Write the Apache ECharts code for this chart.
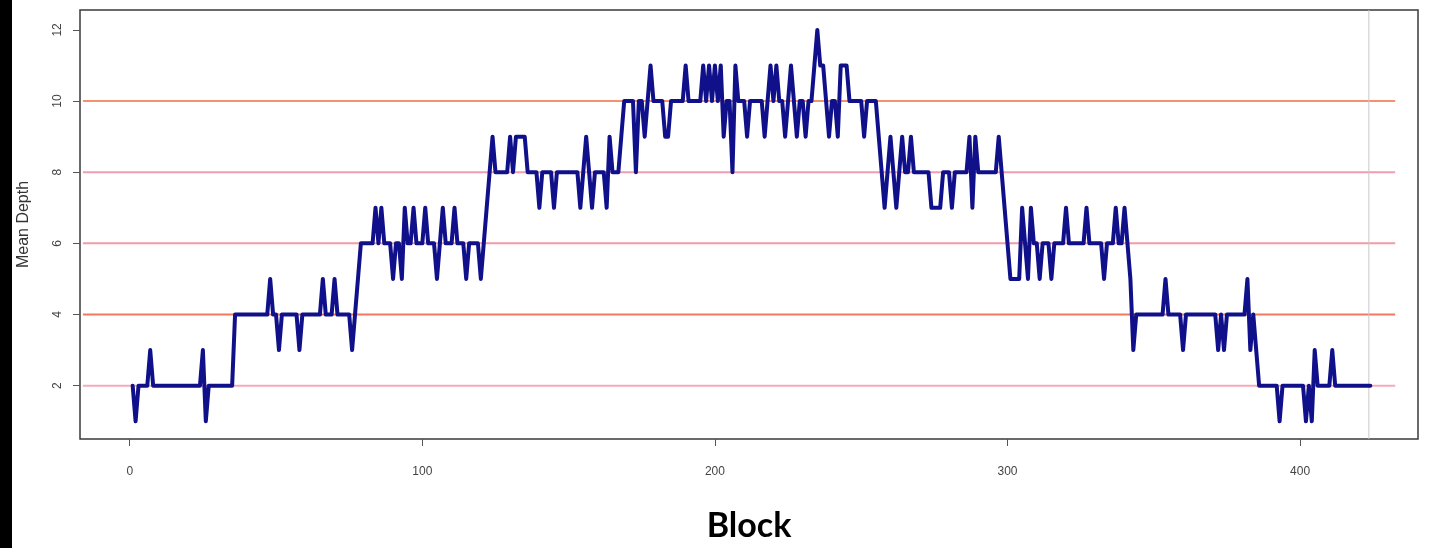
<!DOCTYPE html>
<html>
<head>
<meta charset="utf-8">
<script src="https://cdn.jsdelivr.net/npm/echarts@6/dist/echarts.min.js"></script>
<style>
html,body{margin:0;padding:0;background:#fff;}
#chart{width:1435px;height:548px;}
</style>
</head>
<body>
<div id="chart"></div>
<script>
// Block numbers start at 1; one mean-depth value per block
const firstBlock = 1;
const meanDepth = [
  2,1,2,2,2,2,3,2,2,2,
  2,2,2,2,2,2,2,2,2,2,
  2,2,2,2,3,1,2,2,2,2,
  2,2,2,2,2,4,4,4,4,4,
  4,4,4,4,4,4,4,5,4,4,
  3,4,4,4,4,4,4,3,4,4,
  4,4,4,4,4,5,4,4,4,5,
  4,4,4,4,4,3,4,5,6,6,
  6,6,6,7,6,7,6,6,6,5,
  6,6,5,7,6,6,7,6,6,6,
  7,6,6,6,5,6,7,6,6,6,
  7,6,6,6,5,6,6,6,6,5,
  6,7,8,9,8,8,8,8,8,9,
  8,9,9,9,9,8,8,8,8,7,
  8,8,8,8,7,8,8,8,8,8,
  8,8,8,7,8,9,8,7,8,8,
  8,8,7,9,8,8,8,9,10,10,
  10,10,8,10,10,9,10,11,10,10,
  10,10,9,9,10,10,10,10,10,11,
  10,10,10,10,10,11,10,11,10,11,
  10,11,9,10,10,8,11,10,10,10,
  9,10,10,10,10,10,9,10,11,10,
  11,10,10,9,10,11,10,9,10,10,
  9,10,10,11,12,11,11,10,9,10,
  10,9,11,11,11,10,10,10,10,10,
  9,10,10,10,10,9,8,7,8,9,
  8,7,8,9,8,8,9,8,8,8,
  8,8,8,7,7,7,7,8,8,8,
  7,8,8,8,8,8,9,7,9,8,
  8,8,8,8,8,8,9,8,7,6,
  5,5,5,5,7,6,5,7,6,6,
  5,6,6,6,5,6,6,6,6,7,
  6,6,6,6,6,6,7,6,6,6,
  6,6,5,6,6,6,7,6,6,7,
  6,5,3,4,4,4,4,4,4,4,
  4,4,4,5,4,4,4,4,4,3,
  4,4,4,4,4,4,4,4,4,4,
  4,3,4,3,4,4,4,4,4,4,
  4,5,3,4,3,2,2,2,2,2,
  2,2,1,2,2,2,2,2,2,2,
  2,1,2,1,3,2,2,2,2,2,
  3,2,2,2,2,2,2,2,2,2,
  2,2,2,2
];
const xTicks = [0, 100, 200, 300, 400];
const yTicks = [2, 4, 6, 8, 10, 12];
const refLevels = [2, 4, 6, 8, 10];
const refColors = ['#f4aabd', '#f3785e', '#f39aa6', '#f29cb4', '#f4916f'];
const refLineStart = -16;
const refLineEnd = 432.5;
const vLineAt = 423.5;

const X_MIN = -17, X_MAX = 440.3, Y_MIN = 0.5, Y_MAX = 12.56;

const seriesData = meanDepth.map((v, i) => [firstBlock + i, v]);

const refSeries = refLevels.map((lv, i) => ({
  type: 'line', silent: true, symbol: 'none', showSymbol: false,
  data: [[refLineStart, lv], [refLineEnd, lv]],
  lineStyle: {color: refColors[i], width: 2}, z: 2
}));
refSeries.push({
  type: 'line', silent: true, symbol: 'none', showSymbol: false,
  data: [[vLineAt, Y_MIN], [vLineAt, Y_MAX]],
  lineStyle: {color: '#c9c9c9', width: 1}, z: 2
});

const chart = echarts.init(document.getElementById('chart'), null, {renderer: 'canvas'});
chart.setOption({
  animation: false,
  backgroundColor: '#ffffff',
  grid: {left: 80, right: 17, top: 10, bottom: 104, show: true, borderColor: '#3a3a3a', borderWidth: 1.5, backgroundColor: 'transparent'},
  xAxis: {
    type: 'value', min: X_MIN, max: X_MAX,
    splitLine: {show: false},
    axisLine: {show: false, onZero: false},
    axisTick: {show: true, customValues: xTicks, length: 7, lineStyle: {color: '#555', width: 1}},
    axisLabel: {show: true, customValues: xTicks, margin: 27, fontSize: 12, color: '#444', fontFamily: 'Liberation Sans'},
    name: 'Block', nameLocation: 'middle', nameGap: 70,
    nameTextStyle: {fontSize: 34, fontWeight: 'bold', color: '#000', fontFamily: 'Lato'}
  },
  yAxis: {
    type: 'value', min: Y_MIN, max: Y_MAX,
    splitLine: {show: false},
    axisLine: {show: false, onZero: false},
    axisTick: {show: true, customValues: yTicks, length: 7, lineStyle: {color: '#555', width: 1}},
    axisLabel: {show: true, customValues: yTicks, rotate: 90, margin: 16, fontSize: 12, color: '#444', fontFamily: 'Liberation Sans'},
    name: 'Mean Depth', nameLocation: 'middle', nameGap: 48,
    nameTextStyle: {fontSize: 16, color: '#333', fontFamily: 'Liberation Sans'}
  },
  graphic: [{
    type: 'rect', left: 0, top: 0, silent: true,
    shape: {width: 12, height: 548},
    style: {fill: '#000'}
  }],
  series: refSeries.concat([
    {
      type: 'line', data: seriesData, showSymbol: false, symbol: 'none',
      lineStyle: {color: '#10108a', width: 4, join: 'round', cap: 'round'},
      z: 5
    }
  ])
});
</script>
</body>
</html>
